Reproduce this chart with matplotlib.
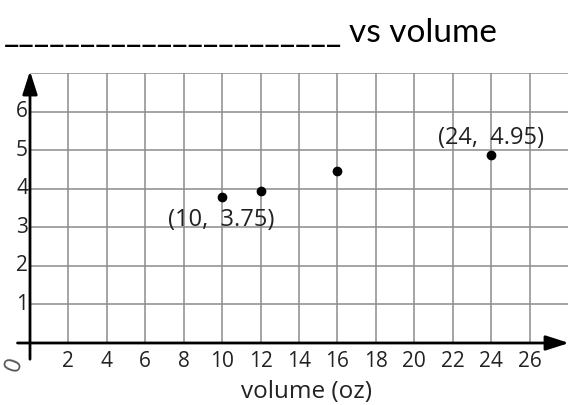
import matplotlib.pyplot as plt

# data
volume = [10, 12, 16, 24]
price = [3.78, 3.95, 4.45, 4.87]
x_ticks = list(range(2, 27, 2))
y_ticks = list(range(1, 7))
point_labels = ['(10,  3.75)', '(24,  4.95)']
label_xy = [(9.95, 3.19), (24.0, 5.31)]

plt.rcParams['font.family'] = ['Open Sans', 'DejaVu Sans']

fig = plt.figure(figsize=(5.68, 4.05), dpi=100)
# [left, bottom, width, height] in figure co-ordinates
ax = fig.add_axes([30 / 568, 62 / 405, 538 / 568, 270 / 405])
ax.set_xlim(0, 28)
ax.set_ylim(0, 7)
ax.axis('off')

grid_col = '#8c8c8c'
for x in x_ticks:
    ax.plot([x, x], [0, 7], color=grid_col, lw=1.1, zorder=1)
for y in y_ticks + [7]:
    ax.plot([0, 28], [y, y], color=grid_col, lw=1.1, zorder=1)

# axes with arrow heads
ax.annotate('', xy=(28.05, 0), xytext=(-0.65, 0),
            arrowprops=dict(arrowstyle='-|>,head_length=1.4,head_width=0.45',
                            color='black', lw=2, shrinkA=0, shrinkB=0),
            annotation_clip=False, zorder=3)
ax.annotate('', xy=(0, 7.05), xytext=(0, -0.42),
            arrowprops=dict(arrowstyle='-|>,head_length=1.4,head_width=0.45',
                            color='black', lw=2, shrinkA=0, shrinkB=0),
            annotation_clip=False, zorder=3)

for x in x_ticks:
    ax.text(x, -0.22, str(x), ha='center', va='top', fontsize=15, color='#222222')
for y in y_ticks:
    ax.text(-0.1, y, str(y), ha='right', va='center', fontsize=15, color='#222222')
# the hand-written origin mark
ax.text(-0.78, -0.57, '0', rotation=70, ha='center', va='center',
        fontsize=17, color='#555555')

ax.scatter(volume, price, s=36, color='black', zorder=4)
for txt, (tx, ty) in zip(point_labels, label_xy):
    ax.text(tx, ty, txt, ha='center', va='center', fontsize=17, color='#222222')

ax.text(14.4, -1.27, 'volume (oz)', ha='center', va='center', fontsize=17.5,
        color='#222222')

title_font = ['Lato', 'DejaVu Sans']
fig.text(4 / 568, 1 - 42 / 405, '_' * 22, ha='left', va='baseline',
         fontsize=24, family=title_font)
fig.text(349 / 568, 1 - 42 / 405, 'vs volume', ha='left', va='baseline',
         fontsize=24, family=title_font)

fig.savefig('out.png', dpi=100)
